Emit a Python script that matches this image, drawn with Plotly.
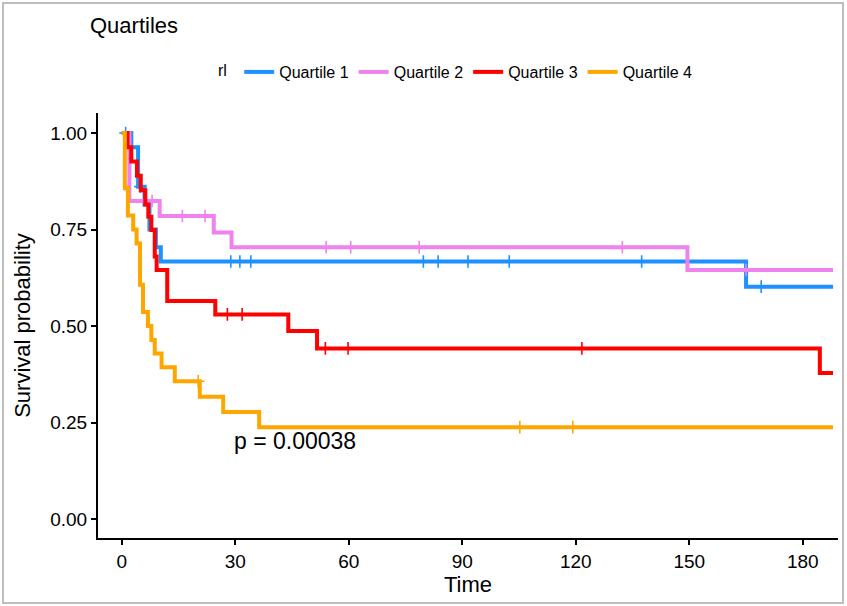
import plotly.graph_objects as go

# ---- data ----
groups = ["Quartile 1", "Quartile 2", "Quartile 3", "Quartile 4"]
colors = ["#1E90FF", "#EE82EE", "#FF0000", "#FFA500"]

q1_time = [0, 2.5, 4.3, 6.0, 7.3, 9.0, 10.3, 165, 188]
q1_surv = [1.0, 0.963, 0.861, 0.815, 0.75, 0.704, 0.667, 0.602, 0.602]
q1_cens_time = [1, 4.9, 28.8, 31.2, 34.1, 79.7, 83.6, 91.5, 102.4, 137.4, 169]
q1_cens_surv = [1.0, 0.861, 0.667, 0.667, 0.667, 0.667, 0.667, 0.667, 0.667, 0.667, 0.602]

q2_time = [0, 2.0, 10.0, 24.3, 29.0, 149.5, 188]
q2_surv = [1.0, 0.824, 0.785, 0.742, 0.704, 0.645, 0.645]
q2_cens_time = [8, 16, 22, 54, 60.5, 78.6, 132.3, 165]
q2_cens_surv = [0.824, 0.785, 0.785, 0.704, 0.704, 0.704, 0.704, 0.645]

q3_time = [0, 1.5, 2.5, 4.0, 5.0, 6.2, 7.0, 7.8, 8.7, 9.2, 12.0, 24.7, 44.0, 51.6, 184.5, 188]
q3_surv = [1.0, 0.963, 0.926, 0.889, 0.852, 0.815, 0.783, 0.749, 0.68, 0.645, 0.565, 0.53, 0.487, 0.442, 0.378, 0.378]
q3_cens_time = [27.9, 31.8, 53.8, 59.8, 121.6]
q3_cens_surv = [0.53, 0.53, 0.442, 0.442, 0.442]

q4_time = [0, 0.8, 1.6, 3.0, 3.9, 4.8, 5.6, 6.9, 7.8, 8.7, 10.5, 14.0, 20.6, 26.8, 36.3, 188]
q4_surv = [1.0, 0.857, 0.786, 0.75, 0.714, 0.607, 0.536, 0.5, 0.464, 0.429, 0.393, 0.357, 0.317, 0.277, 0.238, 0.238]
q4_cens_time = [20.2, 105.2, 119.2]
q4_cens_surv = [0.357, 0.238, 0.238]

x_ticks = [0, 30, 60, 90, 120, 150, 180]
y_ticks = [0.0, 0.25, 0.5, 0.75, 1.0]
y_tick_labels = ["0.00", "0.25", "0.50", "0.75", "1.00"]
p_text = "p = 0.00038"

curves = [
    (q1_time, q1_surv, q1_cens_time, q1_cens_surv),
    (q2_time, q2_surv, q2_cens_time, q2_cens_surv),
    (q3_time, q3_surv, q3_cens_time, q3_cens_surv),
    (q4_time, q4_surv, q4_cens_time, q4_cens_surv),
]

W, H = 847, 606
L, R, T, B = 98, 838, 113, 538

fig = go.Figure()
for name, col, (t, s, ct, cs) in zip(groups, colors, curves):
    fig.add_trace(go.Scatter(
        x=t, y=s, mode="lines", name=name, legendgroup=name,
        line=dict(color=col, width=4, shape="hv"), showlegend=True))
    fig.add_trace(go.Scatter(
        x=ct, y=cs, mode="markers", name=name, legendgroup=name,
        marker=dict(symbol="cross-thin", size=9, color=col,
                    line=dict(color=col, width=1.6)),
        showlegend=False, hoverinfo="skip"))

sans = "Liberation Sans, Arial, sans-serif"

fig.update_layout(
    width=W, height=H,
    paper_bgcolor="white", plot_bgcolor="white",
    margin=dict(l=L, r=W - R, t=T, b=H - B),
    title=dict(text="Quartiles", x=90 / W, xanchor="left", y=1 - 25 / H,
               yanchor="middle", font=dict(family=sans, size=22, color="black")),
    legend=dict(orientation="h", x=0.485, xanchor="center", y=(B - 72) / (B - T),
                yanchor="middle", title=dict(text="rl ", font=dict(family=sans, size=16, color="black")),
                font=dict(family=sans, size=16, color="black"),
                bgcolor="rgba(0,0,0,0)"),
    xaxis=dict(range=[-6.3, 189.3], tickvals=x_ticks, showgrid=False, zeroline=False,
               showline=True, linecolor="black", linewidth=2, ticks="outside",
               ticklen=5, tickwidth=2, tickcolor="black",
               tickfont=dict(family=sans, size=19, color="black"),
               title=dict(text="Time", font=dict(family=sans, size=22, color="black"), standoff=6)),
    yaxis=dict(range=[-0.0492, 1.0518], tickvals=y_ticks, ticktext=y_tick_labels,
               showgrid=False, zeroline=False,
               showline=True, linecolor="black", linewidth=2, ticks="outside",
               ticklen=5, tickwidth=2, tickcolor="black",
               tickfont=dict(family=sans, size=19, color="black"),
               title=dict(text="Survival probability", font=dict(family=sans, size=22, color="black"), standoff=14)),
    annotations=[dict(x=45.7, y=0.202, xref="x", yref="y", text=p_text, showarrow=False,
                      font=dict(family=sans, size=23, color="black"))],
    shapes=[dict(type="rect", xref="paper", yref="paper",
                 x0=(3 - L) / (R - L), x1=(843 - L) / (R - L),
                 y0=(B - 603) / (B - T), y1=(B - 3) / (B - T),
                 line=dict(color="#BDBDBD", width=2), fillcolor="rgba(0,0,0,0)", layer="below")],
)

fig.write_html("out.html", config={"displayModeBar": False},
               post_script="document.body.style.margin='0';")
